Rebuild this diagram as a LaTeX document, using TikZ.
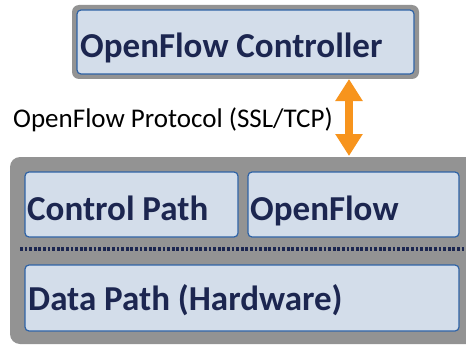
\documentclass[tikz,border=0pt]{standalone}
\usepackage{fontspec}
\setmainfont{Carlito}
\usetikzlibrary{arrows.meta}
\definecolor{boxfill}{HTML}{D3DDEA}
\definecolor{boxline}{HTML}{2F63A6}
\definecolor{navy}{HTML}{1C2650}
\definecolor{switchgray}{HTML}{939393}
\definecolor{arroworange}{HTML}{F7941D}
\tikzset{
  panel/.style={draw=boxline, line width=1.2pt, fill=boxfill, rounded corners=4pt},
  bigtext/.style={anchor=base west, inner sep=0pt, text=navy, font=\fontsize{35}{35}\selectfont\bfseries},
}
\begin{document}
\begin{tikzpicture}[x=1pt,y=-1pt]
\useasboundingbox (0,0) rectangle (466,345);
% controller
\fill[switchgray, rounded corners=7pt] (72,5) rectangle (419,79);
\draw[panel] (77,10) rectangle (414,74);
\node[bigtext] (ctrl) at (80,58) {OpenFlow Controller};
% switch body
\fill[switchgray, rounded corners=10pt] (10,157) rectangle (480,344);
\draw[panel] (25,172) rectangle (238,237);
\draw[panel] (248,172) rectangle (459,237);
\draw[panel] (25,265) rectangle (459,331);
\node[bigtext] (cp) at (27,220) {Control Path};
\node[bigtext] (of) at (250,220) {OpenFlow};
\node[bigtext] (dp) at (28,310) {Data Path (Hardware)};
\draw[navy, line width=3.4pt, dash pattern=on 2.8pt off 1.8pt] (20,249) -- (466,249);
% protocol link
\coordinate (top) at (349,79);
\coordinate (bot) at (349,156);
\draw[arroworange, line width=8pt, {Triangle[length=22pt,width=26pt]}-{Triangle[length=22pt,width=26pt]}] (top) -- (bot);
\node[anchor=base west, inner sep=0pt, font=\fontsize{27}{27}\selectfont] (proto) at (13,128) {OpenFlow Protocol (SSL/TCP)};
\end{tikzpicture}
\end{document}
